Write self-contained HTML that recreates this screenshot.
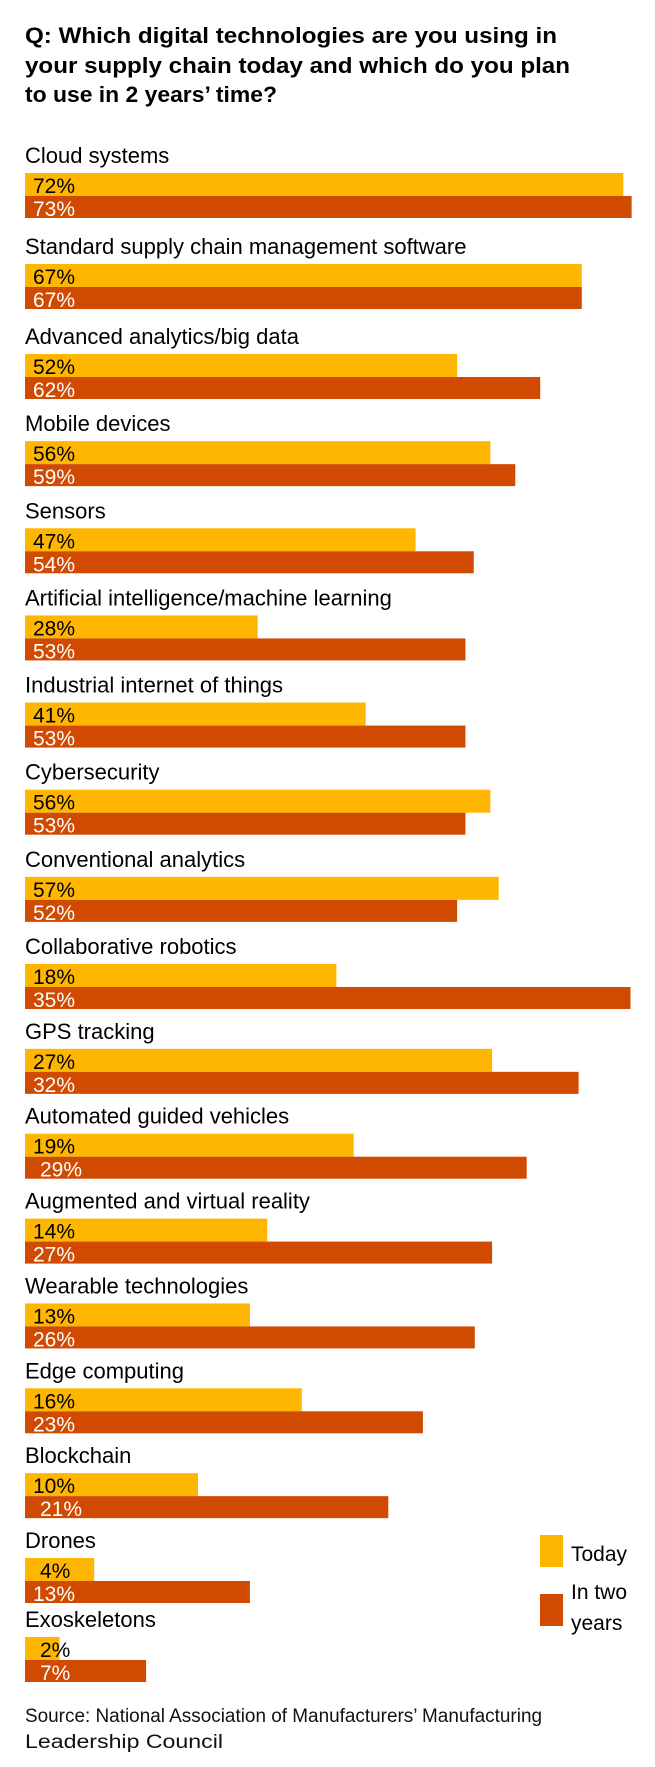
<!DOCTYPE html>
<html><head><meta charset="utf-8"><style>
html,body{margin:0;padding:0;background:#fff;}
svg{display:block;font-family:"Liberation Sans",Arial,sans-serif;}
</style></head><body>
<svg id="chart" width="655" height="1767" viewBox="0 0 655 1767">
  <g font-weight="bold" font-size="22" fill="#000">
    <text x="25" y="43" textLength="532" lengthAdjust="spacingAndGlyphs">Q: Which digital technologies are you using in</text>
    <text x="25" y="73" textLength="545" lengthAdjust="spacingAndGlyphs">your supply chain today and which do you plan</text>
    <text x="25" y="102" textLength="252" lengthAdjust="spacingAndGlyphs">to use in 2 years’ time?</text>
  </g>
  <g id="bars"></g>
  <g font-size="21">
    <rect x="540" y="1535" width="23" height="32" fill="#FFB600"/>
    <text x="571" y="1561">Today</text>
    <rect x="540" y="1594" width="23" height="32" fill="#D04A02"/>
    <text x="571" y="1599">In two</text>
    <text x="571" y="1630">years</text>
  </g>
  <g font-size="19" fill="#111">
    <text x="25" y="1722" textLength="517" lengthAdjust="spacingAndGlyphs">Source: National Association of Manufacturers’ Manufacturing</text>
    <text x="25" y="1748" textLength="198" lengthAdjust="spacingAndGlyphs">Leadership Council</text>
  </g>
</svg>
<script>
const categories = ["Cloud systems","Standard supply chain management software","Advanced analytics/big data","Mobile devices","Sensors","Artificial intelligence/machine learning","Industrial internet of things","Cybersecurity","Conventional analytics","Collaborative robotics","GPS tracking","Automated guided vehicles","Augmented and virtual reality","Wearable technologies","Edge computing","Blockchain","Drones","Exoskeletons"];
const todayValues = [72,67,52,56,47,28,41,56,57,18,27,19,14,13,16,10,4,2];
const twoYearValues = [73,67,62,59,54,53,53,53,52,35,32,29,27,26,23,21,13,7];
// the source graphic uses a different bar scale for the lower block of items
const scaleGroup = [0,0,0,0,0,0,0,0,0,1,1,1,1,1,1,1,1,1];

const X0 = 25;
const pxPerPct = [8.31, 17.3];
function xScale(v, g){ return v * pxPerPct[g]; }
// layout: row tops interpolated between anchor rows
const layoutAnchors = [[0,173],[1,264],[2,354],[9,964],[16,1558],[17,1637]];
function groupTop(i){
  for (let k = 0; k < layoutAnchors.length - 1; k++) {
    const a = layoutAnchors[k], b = layoutAnchors[k+1];
    if (i >= a[0] && i <= b[0]) return a[1] + (b[1]-a[1]) * (i-a[0]) / (b[0]-a[0]);
  }
  return 173 + i * 86;
}
function labelX(v, j){ return (v < 10 || (j === 1 && (v === 21 || v === 29))) ? 40 : 33; }
const NS = "http://www.w3.org/2000/svg";
const root = document.getElementById("bars");
function mk(tag, attrs){ const e = document.createElementNS(NS, tag); for (const k in attrs) e.setAttribute(k, attrs[k]); return e; }

categories.forEach((cat, i) => {
  const top = groupTop(i);
  const g = mk("g", {});
  
  
  const lab = mk("text", {x: X0, y: top - 10, "font-size": 22, fill: "#000"});
  lab.textContent = cat;
  
  
  g.appendChild(lab);
  const series = [[todayValues[i], "#FFB600", "#000", 0], [twoYearValues[i], "#D04A02", "#fff", 23]];
  series.forEach((s, j) => {
    const r = mk("rect", {x: X0, y: top + s[3], width: xScale(s[0], scaleGroup[i]), height: j ? 22 : 23, fill: s[1]});
    
    
    g.appendChild(r);
    const t = mk("text", {x: labelX(s[0], j), y: top + s[3] + 20, "font-size": 21, fill: s[2]});
    t.textContent = s[0] + "%";
    
    
    g.appendChild(t);
  });
  root.appendChild(g);
});
</script>
</body></html>
